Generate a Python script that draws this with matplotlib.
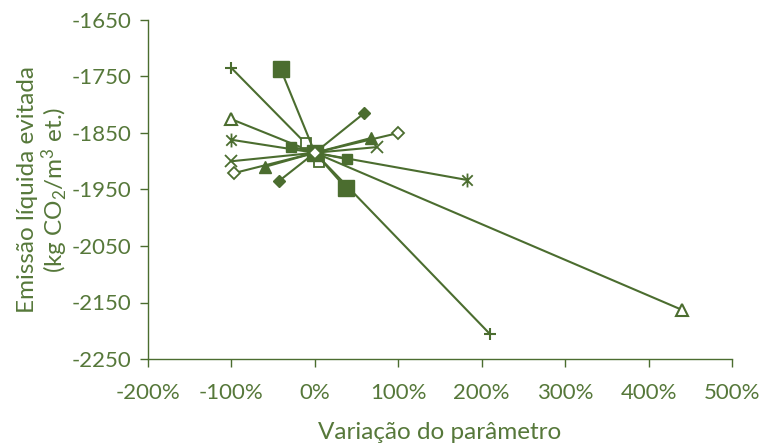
import matplotlib
matplotlib.use("Agg")
import matplotlib.pyplot as plt
from matplotlib.path import Path

plt.rcParams['font.family'] = ['Lato', 'DejaVu Sans']
plt.rcParams['mathtext.fontset'] = 'custom'
plt.rcParams['mathtext.rm'] = 'Lato'
plt.rcParams['mathtext.it'] = 'Lato:italic'
plt.rcParams['axes.unicode_minus'] = False

GREEN = '#4b6d2f'
TEXT = '#56783a'

# variação (%) and emissão for each parameter
plus_x = [-100, 0, 210]
plus_y = [-1735, -1885, -2206]
bigsq_x = [-41, 0, 37]
bigsq_y = [-1737, -1885, -1947]
smallsq_x = [-28, 0, 38]
smallsq_y = [-1874, -1885, -1896]
opensq_x = [-11, 0, 5]
opensq_y = [-1868, -1885, -1902]
filldia_x = [-43, 0, 59]
filldia_y = [-1935, -1885, -1815]
opendia_x = [-97, 0, 100]
opendia_y = [-1921, -1885, -1850]
filltri_x = [-60, 0, 67]
filltri_y = [-1910, -1885, -1859]
opentri_x = [-101, 0, 440]
opentri_y = [-1825, -1885, -2163]
star_x = [-100, 0, 182]
star_y = [-1862, -1885, -1933]
cross_x = [-100, 0, 74]
cross_y = [-1900, -1885, -1875]

x_ticks = [-200, -100, 0, 100, 200, 300, 400, 500]
x_ticklabels = ['-200%', '-100%', '0%', '100%', '200%', '300%', '400%', '500%']
y_ticks = [-2250, -2150, -2050, -1950, -1850, -1750, -1650]

# asterisk marker like the Excel one: vertical bar + X
star_marker = Path([(0, -1), (0, 1), (-0.75, -0.75), (0.75, 0.75), (-0.75, 0.75), (0.75, -0.75)],
                   [Path.MOVETO, Path.LINETO, Path.MOVETO, Path.LINETO, Path.MOVETO, Path.LINETO])

fig = plt.figure(figsize=(7.61, 4.46), dpi=100)
ax = fig.add_axes([148 / 761, 1 - 359 / 446, (732 - 148) / 761, (359 - 20) / 446])

lw = 1.5
ax.plot(plus_x, plus_y, color=GREEN, lw=lw, marker='+', ms=9, mew=1.5)
ax.plot(star_x, star_y, color=GREEN, lw=lw, marker=star_marker, ms=10, mew=1.3)
ax.plot(cross_x, cross_y, color=GREEN, lw=lw, marker='x', ms=8, mew=1.3)
ax.plot(opentri_x, opentri_y, color=GREEN, lw=lw, marker='^', ms=8, mew=1.5, mfc='white')
ax.plot(filltri_x, filltri_y, color=GREEN, lw=lw, marker='^', ms=8, mew=1.0, mfc=GREEN)
ax.plot(filldia_x, filldia_y, color=GREEN, lw=lw, marker='D', ms=6, mew=1.0, mfc=GREEN)
ax.plot(smallsq_x, smallsq_y, color=GREEN, lw=lw, marker='s', ms=6.5, mew=1.0, mfc=GREEN)
ax.plot(opensq_x, opensq_y, color=GREEN, lw=lw, marker='s', ms=6.5, mew=1.3, mfc='white')
ax.plot(bigsq_x, bigsq_y, color=GREEN, lw=lw, marker='s', ms=12, mew=1.0, mfc=GREEN)
ax.plot(opendia_x, opendia_y, color=GREEN, lw=lw, marker='D', ms=6, mew=1.3, mfc='white')

ax.set_xlim(-200, 500)
ax.set_ylim(-2250, -1650)
ax.set_xticks(x_ticks)
ax.set_xticklabels(x_ticklabels)
ax.set_yticks(y_ticks)

for s in ['top', 'right']:
    ax.spines[s].set_visible(False)
for s in ['left', 'bottom']:
    ax.spines[s].set_color(GREEN)
    ax.spines[s].set_linewidth(1.0)
ax.tick_params(colors=GREEN, labelcolor=TEXT, labelsize=16, length=6, width=1.0, direction='out')
ax.tick_params(axis='x', pad=11)
ax.tick_params(axis='y', pad=6)

ax.set_xlabel('Variação do parâmetro', color=TEXT, fontsize=17.5, labelpad=14)
ax.set_ylabel('Emissão líquida evitada\n(kg CO$_2$/m$^3$ et.)', color=TEXT, fontsize=17.5,
              linespacing=1.05)
ax.yaxis.set_label_coords((70 - 148) / 584, 0.5)

fig.savefig('out.png', dpi=100)
